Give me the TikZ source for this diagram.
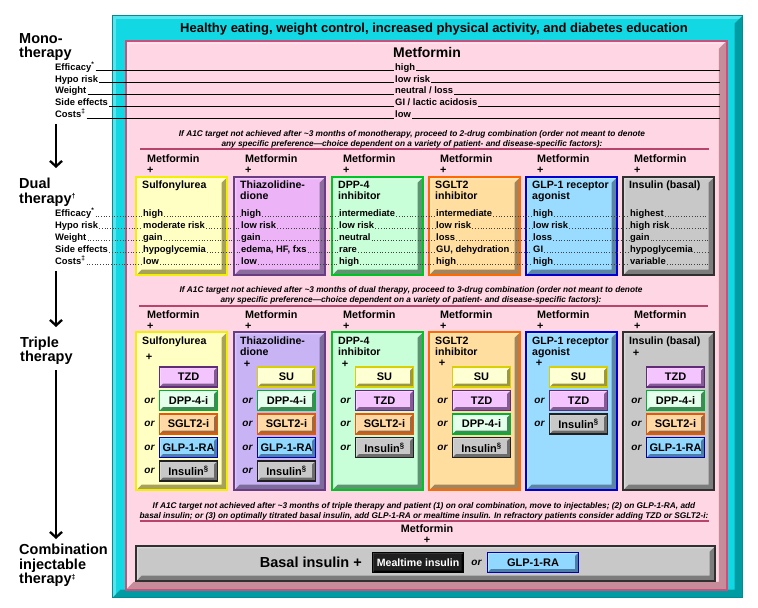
\documentclass[tikz,border=0pt]{standalone}
\usepackage{fontspec}
\setmainfont{Liberation Sans}
\usetikzlibrary{arrows.meta, positioning}

\newcommand{\fsz}[2]{\fontsize{#1}{#2}\selectfont}
\newcommand{\smark}[1]{\raisebox{4.5pt}{\fsz{7}{7}#1}}

% frame colours
\definecolor{cyanM}{HTML}{12D8E4}
\definecolor{cyanD}{HTML}{009CA4}
\definecolor{cyanE}{HTML}{008C90}
\definecolor{pinkM}{HTML}{FFD6E4}
\definecolor{pinkE}{HTML}{C8507A}
\definecolor{pinkD}{HTML}{C68C9A}
\definecolor{ruleC}{HTML}{B8446E}
% column boxes: fill / border / bevel
\definecolor{cfsu}{HTML}{FFFFC4}\definecolor{cbsu}{HTML}{F2F000}\definecolor{cdsu}{HTML}{A8A258}
\definecolor{cftz}{HTML}{ECB4F6}\definecolor{cbtz}{HTML}{6A3C84}\definecolor{cdtz}{HTML}{8C6C9C}
\definecolor{cftt}{HTML}{C8B4F4}\definecolor{cbtt}{HTML}{6A3C84}\definecolor{cdtt}{HTML}{7C6C9C}
\definecolor{cfdp}{HTML}{C8FFD8}\definecolor{cbdp}{HTML}{00C424}\definecolor{cddp}{HTML}{5C9670}
\definecolor{cfsg}{HTML}{FFDEA0}\definecolor{cbsg}{HTML}{FF6A00}\definecolor{cdsg}{HTML}{A4845A}
\definecolor{cfgl}{HTML}{99DCFF}\definecolor{cbgl}{HTML}{0000D0}\definecolor{cdgl}{HTML}{5C84A4}
\definecolor{cfis}{HTML}{C8C8C8}\definecolor{cbis}{HTML}{303030}\definecolor{cdis}{HTML}{7C7C7C}
% add-on boxes
\definecolor{sfsu}{HTML}{FFFFD4}\definecolor{sbsu}{HTML}{D8D000}\definecolor{sdsu}{HTML}{9C9840}
\definecolor{sftz}{HTML}{F4C4FF}\definecolor{sbtz}{HTML}{602C78}\definecolor{sdtz}{HTML}{845C94}
\definecolor{sfdp}{HTML}{E4FFEC}\definecolor{sbdp}{HTML}{00B030}\definecolor{sddp}{HTML}{3C8C54}
\definecolor{sfsg}{HTML}{FFD8A4}\definecolor{sbsg}{HTML}{E85800}\definecolor{sdsg}{HTML}{A06840}
\definecolor{sfgl}{HTML}{90D8FF}\definecolor{sbgl}{HTML}{0000B0}\definecolor{sdgl}{HTML}{4C7CA8}
\definecolor{sfis}{HTML}{C8C8C8}\definecolor{sbis}{HTML}{202020}\definecolor{sdis}{HTML}{6C6C6C}

\begin{document}
\begin{tikzpicture}[x=1pt, y=-1pt,
    bevel/.style 2 args={path picture={
        \fill[#1] (path picture bounding box.north east)
            -- (path picture bounding box.south east)
            -- (path picture bounding box.south west)
            -- ([xshift=#2, yshift=#2]path picture bounding box.south west)
            -- ([xshift=-#2, yshift=#2]path picture bounding box.south east)
            -- ([xshift=-#2, yshift=-#2]path picture bounding box.north east) -- cycle;
        \fill[white, opacity=.3] (path picture bounding box.north east)
            -- (path picture bounding box.north west)
            -- (path picture bounding box.south west)
            -- ([xshift=.4*#2, yshift=.4*#2]path picture bounding box.south west)
            -- ([xshift=.4*#2, yshift=-.4*#2]path picture bounding box.north west)
            -- ([xshift=-.4*#2, yshift=-.4*#2]path picture bounding box.north east) -- cycle;
    }},
    colbox/.style 2 args={draw=cb#1, fill=cf#1, bevel={cd#1}{5.5pt}, line width=2.4pt,
        minimum width=91pt, minimum height=#2, anchor=north west, inner sep=0pt},
    subbox/.style={draw=sb#1, fill=sf#1, bevel={sd#1}{3.5pt}, line width=1.8pt,
        minimum width=58pt, minimum height=20pt, inner sep=0pt, font=\bfseries\fsz{11}{12}},
    mealbox/.style={draw=black, fill=black!88, bevel={black}{2pt}, line width=1.2pt,
        text=white, minimum width=91pt, minimum height=20pt, inner sep=0pt,
        font=\bfseries\fsz{10.6}{10.6}},
    phase/.style={font=\bfseries\fsz{14.5}{14.5}, align=left, anchor=north west, inner sep=0pt},
    lbl/.style={font=\bfseries\fsz{9.4}{10}, anchor=base west, inner sep=1pt},
    val/.style={font=\bfseries\fsz{9.4}{10}, anchor=base west, inner sep=1pt},
    drug/.style={font=\bfseries\fsz{10.6}{10.6}, align=left, anchor=north west, inner sep=0pt},
    met/.style={font=\bfseries\fsz{10.8}{11}, align=left, anchor=north west, inner sep=0pt},
    cond/.style={font=\bfseries\itshape\fsz{8.3}{9.8}, align=center, inner sep=0pt},
    orlbl/.style={font=\bfseries\itshape\fsz{10}{10}, inner sep=0pt},
    monoline/.style={line width=.8pt, transform canvas={yshift=-.5pt}},
    dotline/.style={line width=.7pt, dotted, black!75, transform canvas={yshift=-.5pt}},
    rule/.style={ruleC, line width=2pt},
    flow/.style={-{Straight Barb[length=5.5pt, width=12pt]}, line width=2.3pt},
]
    \useasboundingbox (0,0) rectangle (758,608);

    % frames
    \node[draw=cyanE, fill=cyanM, line width=1.2pt, bevel={cyanD}{8pt}, anchor=north west,
          minimum width=630pt, minimum height=582pt, inner sep=0pt] (frame) at (112,15) {};
    \node[draw=pinkE, fill=pinkM, line width=1.5pt, bevel={pinkD}{8pt}, anchor=north west,
          minimum width=601pt, minimum height=549pt, inner sep=0pt] (panel) at (125,40) {};
    \node[font=\bfseries\fsz{13}{13}] (head) at (434,29.5)
        {Healthy eating, weight control, increased physical activity, and diabetes education};

    \coordinate (ax) at (56,0);
    \coordinate (mend) at (720,0);
    \coordinate (dend) at (708,0);

    % Mono therapy
    \node[phase] (tmono) at (19,33) {Mono-\\therapy};
    \node[font=\bfseries\fsz{14}{14}] (mmet) at (427,52) {Metformin};
    \foreach \k/\l/\v in {0/Efficacy\textsuperscript{*}/high, 1/Hypo risk/low risk,
        2/Weight/{neutral / loss}, 3/Side effects/{GI / lactic acidosis},
        4/Costs\textsuperscript{‡}/low} {
        \node[lbl] (ml\k) at (54,70.3+11.8*\k) {\l};
        \node[val] (mv\k) at (394,70.3+11.8*\k) {\v};
        \draw[monoline] (ml\k.base east) -- (mv\k.base west);
        \draw[monoline] (mv\k.base east) -- (mv\k.base east -| mend);
    }

    % Dual therapy
    \node[phase] (tdual) at (19,178) {Dual\\therapy\smark{†}};
    \node[cond] (cond1) at (412,139) {If A1C target not achieved after \textasciitilde3 months of monotherapy, proceed to 2-drug combination (order not meant to denote\\any specific preference—choice dependent on a variety of patient- and disease-specific factors):};
    \draw[rule] (140,149) -- (709,149);
    \foreach \i/\x/\col in {1/135/su, 2/233/tz, 3/331/dp, 4/428/sg, 5/525/gl, 6/622/is} {
        \node[met] (dm\i) at (\x+12,154) {Metformin\\+};
        \node[colbox={\col}{98pt}] (db\i) at (\x,176) {};
    }
    \foreach \i/\t in {1/Sulfonylurea, 2/{Thiazolidine-\\dione}, 3/{DPP-4\\inhibitor},
        4/{SGLT2\\inhibitor}, 5/{GLP-1 receptor\\agonist}, 6/{Insulin (basal)}}
        \node[drug] (dt\i) at ([xshift=7pt, yshift=-5pt]db\i.north west) {\t};
    \foreach \i/\x/\va/\vb/\vc/\vd/\ve in {1/135/high/moderate risk/gain/hypoglycemia/low,
        2/233/high/low risk/gain/{edema, HF, fxs}/low,
        3/331/intermediate/low risk/neutral/rare/high,
        4/428/intermediate/low risk/loss/{GU, dehydration}/high,
        5/525/high/low risk/loss/GI/high,
        6/622/highest/high risk/gain/hypoglycemia/variable} {
        \node[val] (dv\i-0) at (\x+7,216) {\va};
        \node[val] (dv\i-1) at (\x+7,228) {\vb};
        \node[val] (dv\i-2) at (\x+7,240) {\vc};
        \node[val] (dv\i-3) at (\x+7,252) {\vd};
        \node[val] (dv\i-4) at (\x+7,264) {\ve};
    }
    \foreach \k/\l in {0/Efficacy\textsuperscript{*}, 1/Hypo risk, 2/Weight,
        3/Side effects, 4/Costs\textsuperscript{‡}} {
        \node[lbl] (dl\k) at (54,216+12*\k) {\l};
        \draw[dotline] (dl\k.base east) -- (dv1-\k.base west);
        \foreach \i [evaluate=\i as \j using int(\i+1)] in {1,...,5}
            \draw[dotline] (dv\i-\k.base east) -- (dv\j-\k.base west);
        \draw[dotline] (dv6-\k.base east) -- (dv6-\k.base east -| dend);
    }

    % Triple therapy
    \node[phase] (ttriple) at (20,336.5) {Triple\\therapy};
    \node[cond] (cond2) at (411,295) {If A1C target not achieved after \textasciitilde3 months of dual therapy, proceed to 3-drug combination (order not meant to denote\\any specific preference—choice dependent on a variety of patient- and disease-specific factors):};
    \draw[rule] (139,306) -- (708,306);
    \foreach \i/\x/\col/\py in {1/135/su/357, 2/233/tt/364, 3/331/dp/364, 4/428/sg/363,
        5/525/gl/363, 6/622/is/353} {
        \node[met] (tm\i) at (\x+12,310) {Metformin\\+};
        \node[colbox={\col}{158pt}] (tb\i) at (\x,331) {};
        \node[font=\bfseries\fsz{11}{11}, inner sep=0pt] (tp\i) at (\x+14,\py) {+};
    }
    \foreach \i/\t in {1/Sulfonylurea, 2/{Thiazolidine-\\dione}, 3/{DPP-4\\inhibitor},
        4/{SGLT2\\inhibitor}, 5/{GLP-1 receptor\\agonist}, 6/{Insulin (basal)}}
        \node[drug] (tt\i) at ([xshift=7pt, yshift=-6pt]tb\i.north west) {\t};
    \foreach \i/\x/\items in {
        1/135/{tz/TZD,dp/DPP-4-i,sg/SGLT2-i,gl/GLP-1-RA,is/Insulin\textsuperscript{§}},
        2/233/{su/SU,dp/DPP-4-i,sg/SGLT2-i,gl/GLP-1-RA,is/Insulin\textsuperscript{§}},
        3/331/{su/SU,tz/TZD,sg/SGLT2-i,is/Insulin\textsuperscript{§}},
        4/428/{su/SU,tz/TZD,dp/DPP-4-i,is/Insulin\textsuperscript{§}},
        5/525/{su/SU,tz/TZD,is/Insulin\textsuperscript{§}},
        6/622/{tz/TZD,dp/DPP-4-i,sg/SGLT2-i,gl/GLP-1-RA}} {
        \foreach \col/\t [count=\k] in \items {
            \node[subbox=\col] (s\i-\k) at (\x+53.5,353.5+23.5*\k) {\t};
            \ifnum\k>1 \node[orlbl, left=4pt of s\i-\k] (o\i-\k) {or}; \fi
        }
    }

    % Combination injectable therapy
    \node[phase] (tcomb) at (19,544) {Combination\\injectable\\therapy\smark{‡}};
    \node[cond] (cond3) at (424,511) {If A1C target not achieved after \textasciitilde3 months of triple therapy and patient (1) on oral combination, move to injectables; (2) on GLP-1-RA, add\\basal insulin; or (3) on optimally titrated basal insulin, add GLP-1-RA or mealtime insulin. In refractory patients consider adding TZD or SGLT2-i:};
    \draw[rule] (140,520.5) -- (709,520.5);
    \node[met, align=center, anchor=north] (bmet) at (427,524) {Metformin\\+};
    \node[colbox={is}{35pt}, minimum width=579pt] (bbox) at (135,545) {};
    \node[font=\bfseries\fsz{14.5}{14.5}, anchor=east, inner sep=0pt] (bins) at (362,562.5) {Basal insulin +};
    \node[mealbox, right=10pt of bins] (meal) {Mealtime insulin};
    \node[orlbl, right=7pt of meal] (bor) {or};
    \node[subbox=gl, minimum width=91pt, right=5pt of bor] (bglp) {GLP-1-RA};

    % Arrows
    \draw[flow] ([yshift=-5pt]ml4.south -| ax) -- ([yshift=10pt]tdual.north -| ax);
    \draw[flow] ([yshift=-6pt]dl4.south -| ax) -- ([yshift=9.5pt]ttriple.north -| ax);
    \draw[flow] ([yshift=-5.5pt]ttriple.south -| ax) -- ([yshift=5pt]tcomb.north -| ax);
\end{tikzpicture}
\end{document}
